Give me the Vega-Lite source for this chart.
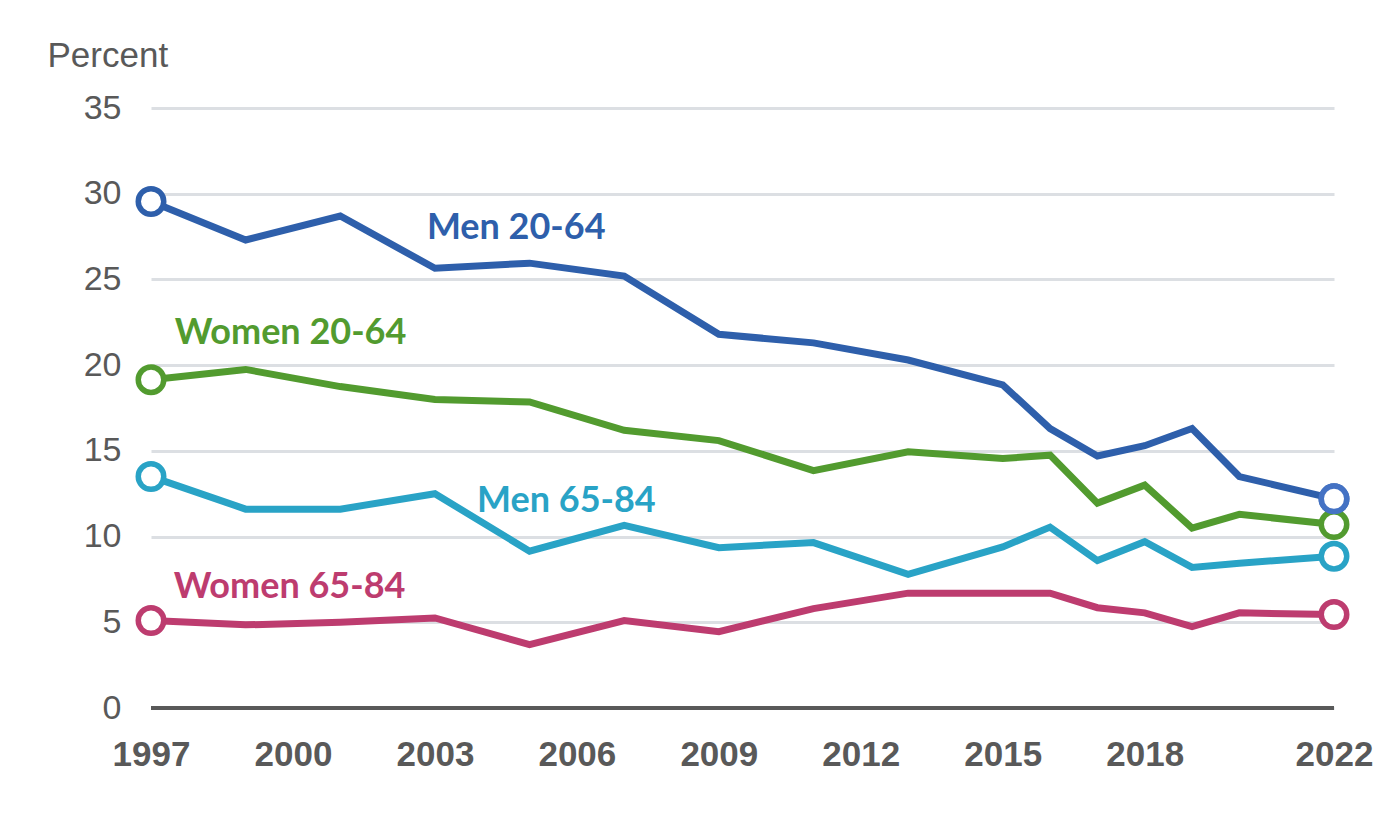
{
  "$schema": "https://vega.github.io/schema/vega-lite/v6.json",
  "width": 1183,
  "height": 600,
  "autosize": {"type": "none"},
  "padding": {"left": 151, "top": 108, "right": 65, "bottom": 109},
  "background": "white",
  "config": {"view": {"stroke": null}, "font": "Liberation Sans"},
  "datasets": {
    "series": [
      {"series": "Men 20-64", "year": 1997, "value": 29.55},
      {"series": "Men 20-64", "year": 1999, "value": 27.3},
      {"series": "Men 20-64", "year": 2001, "value": 28.7},
      {"series": "Men 20-64", "year": 2003, "value": 25.65},
      {"series": "Men 20-64", "year": 2005, "value": 25.95},
      {"series": "Men 20-64", "year": 2007, "value": 25.2},
      {"series": "Men 20-64", "year": 2009, "value": 21.8},
      {"series": "Men 20-64", "year": 2011, "value": 21.3},
      {"series": "Men 20-64", "year": 2013, "value": 20.3},
      {"series": "Men 20-64", "year": 2015, "value": 18.85},
      {"series": "Men 20-64", "year": 2016, "value": 16.3},
      {"series": "Men 20-64", "year": 2017, "value": 14.7},
      {"series": "Men 20-64", "year": 2018, "value": 15.3},
      {"series": "Men 20-64", "year": 2019, "value": 16.3},
      {"series": "Men 20-64", "year": 2020, "value": 13.5},
      {"series": "Men 20-64", "year": 2022, "value": 12.2},
      {"series": "Women 20-64", "year": 1997, "value": 19.15},
      {"series": "Women 20-64", "year": 1999, "value": 19.75},
      {"series": "Women 20-64", "year": 2001, "value": 18.75},
      {"series": "Women 20-64", "year": 2003, "value": 18.0},
      {"series": "Women 20-64", "year": 2005, "value": 17.85},
      {"series": "Women 20-64", "year": 2007, "value": 16.2},
      {"series": "Women 20-64", "year": 2009, "value": 15.6},
      {"series": "Women 20-64", "year": 2011, "value": 13.85},
      {"series": "Women 20-64", "year": 2013, "value": 14.95},
      {"series": "Women 20-64", "year": 2015, "value": 14.55},
      {"series": "Women 20-64", "year": 2016, "value": 14.75},
      {"series": "Women 20-64", "year": 2017, "value": 11.95},
      {"series": "Women 20-64", "year": 2018, "value": 13.0},
      {"series": "Women 20-64", "year": 2019, "value": 10.5},
      {"series": "Women 20-64", "year": 2020, "value": 11.3},
      {"series": "Women 20-64", "year": 2022, "value": 10.7},
      {"series": "Men 65-84", "year": 1997, "value": 13.5},
      {"series": "Men 65-84", "year": 1999, "value": 11.6},
      {"series": "Men 65-84", "year": 2001, "value": 11.6},
      {"series": "Men 65-84", "year": 2003, "value": 12.5},
      {"series": "Men 65-84", "year": 2005, "value": 9.15},
      {"series": "Men 65-84", "year": 2007, "value": 10.65},
      {"series": "Men 65-84", "year": 2009, "value": 9.35},
      {"series": "Men 65-84", "year": 2011, "value": 9.65},
      {"series": "Men 65-84", "year": 2013, "value": 7.8},
      {"series": "Men 65-84", "year": 2015, "value": 9.4},
      {"series": "Men 65-84", "year": 2016, "value": 10.55},
      {"series": "Men 65-84", "year": 2017, "value": 8.6},
      {"series": "Men 65-84", "year": 2018, "value": 9.7},
      {"series": "Men 65-84", "year": 2019, "value": 8.2},
      {"series": "Men 65-84", "year": 2020, "value": 8.45},
      {"series": "Men 65-84", "year": 2022, "value": 8.85},
      {"series": "Women 65-84", "year": 1997, "value": 5.1},
      {"series": "Women 65-84", "year": 1999, "value": 4.85},
      {"series": "Women 65-84", "year": 2001, "value": 5.0},
      {"series": "Women 65-84", "year": 2003, "value": 5.25},
      {"series": "Women 65-84", "year": 2005, "value": 3.7},
      {"series": "Women 65-84", "year": 2007, "value": 5.1},
      {"series": "Women 65-84", "year": 2009, "value": 4.45},
      {"series": "Women 65-84", "year": 2011, "value": 5.8},
      {"series": "Women 65-84", "year": 2013, "value": 6.7},
      {"series": "Women 65-84", "year": 2015, "value": 6.7},
      {"series": "Women 65-84", "year": 2016, "value": 6.7},
      {"series": "Women 65-84", "year": 2017, "value": 5.85},
      {"series": "Women 65-84", "year": 2018, "value": 5.55},
      {"series": "Women 65-84", "year": 2019, "value": 4.75},
      {"series": "Women 65-84", "year": 2020, "value": 5.55},
      {"series": "Women 65-84", "year": 2022, "value": 5.45}
    ],
    "labels": [
      {"series": "Men 20-64", "year": 2002.83, "value": 28.0},
      {"series": "Women 20-64", "year": 1997.5, "value": 21.87},
      {"series": "Men 65-84", "year": 2003.89, "value": 12.05},
      {"series": "Women 65-84", "year": 1997.48, "value": 7.07}
    ],
    "zero": [{"value": 0}]
  },
  "layer": [
    {
      "data": {"name": "series"},
      "mark": {"type": "line", "strokeWidth": 7, "strokeJoin": "miter"},
      "encoding": {
        "x": {
          "field": "year", "type": "quantitative",
          "scale": {"domain": [1997, 2022], "nice": false, "zero": false},
          "axis": {
            "values": [1997, 2000, 2003, 2006, 2009, 2012, 2015, 2018, 2022],
            "format": "d", "title": null, "grid": false, "domain": false, "ticks": false,
            "labelFontSize": 35, "labelFontWeight": "bold", "labelColor": "#595959",
            "labelPadding": 29, "labelFlush": false, "labelOverlap": false
          }
        },
        "y": {
          "field": "value", "type": "quantitative",
          "scale": {"domain": [0, 35], "nice": false},
          "axis": {
            "values": [0, 5, 10, 15, 20, 25, 30, 35],
            "title": "Percent", "titleAngle": 0, "titleAlign": "left", "titleBaseline": "alphabetic",
            "titleX": -104, "titleY": -42, "titleFontSize": 35, "titleFontWeight": "normal",
            "titleColor": "#595959", "labelFontSize": 34, "labelColor": "#595959",
            "labelPadding": 30, "domain": false, "ticks": false,
            "gridColor": "#DCDFE3", "gridWidth": 3
          }
        },
        "color": {
          "field": "series", "type": "nominal", "legend": null,
          "scale": {
            "domain": ["Men 20-64", "Women 20-64", "Men 65-84", "Women 65-84"],
            "range": ["#2E5FAB", "#529B2F", "#29A3C6", "#BD3C6F"]
          }
        }
      }
    },
    {
      "data": {"name": "zero"},
      "mark": {"type": "rule", "color": "#595959", "strokeWidth": 4},
      "encoding": {"y": {"field": "value", "type": "quantitative"}}
    },
    {
      "data": {"name": "series"},
      "transform": [{"filter": "datum.year == 1997 || datum.year == 2022"}],
      "mark": {"type": "point", "filled": true, "fill": "white", "size": 650, "strokeWidth": 5.5, "shape": "circle", "opacity": 1},
      "encoding": {
        "x": {"field": "year", "type": "quantitative"},
        "y": {"field": "value", "type": "quantitative"},
        "stroke": {
          "field": "series", "type": "nominal", "legend": null,
          "scale": {
            "domain": ["Men 20-64", "Women 20-64", "Men 65-84", "Women 65-84"],
            "range": ["#2E5FAB", "#529B2F", "#29A3C6", "#BD3C6F"]
          }
        }
      }
    },
    {
      "data": {"name": "series"},
      "transform": [{"filter": "datum.year == 2022 && datum.series == 'Men 20-64'"}],
      "mark": {"type": "point", "filled": true, "fill": "white", "size": 650, "strokeWidth": 5.5, "shape": "circle", "stroke": "#4472C4", "opacity": 1},
      "encoding": {
        "x": {"field": "year", "type": "quantitative"},
        "y": {"field": "value", "type": "quantitative"}
      }
    },
    {
      "data": {"name": "labels"},
      "mark": {"type": "text", "align": "left", "baseline": "middle", "font": "Lato", "fontWeight": "bold", "fontSize": 36},
      "encoding": {
        "x": {"field": "year", "type": "quantitative"},
        "y": {"field": "value", "type": "quantitative"},
        "text": {"field": "series"},
        "color": {"field": "series", "type": "nominal", "legend": null}
      }
    }
  ]
}
